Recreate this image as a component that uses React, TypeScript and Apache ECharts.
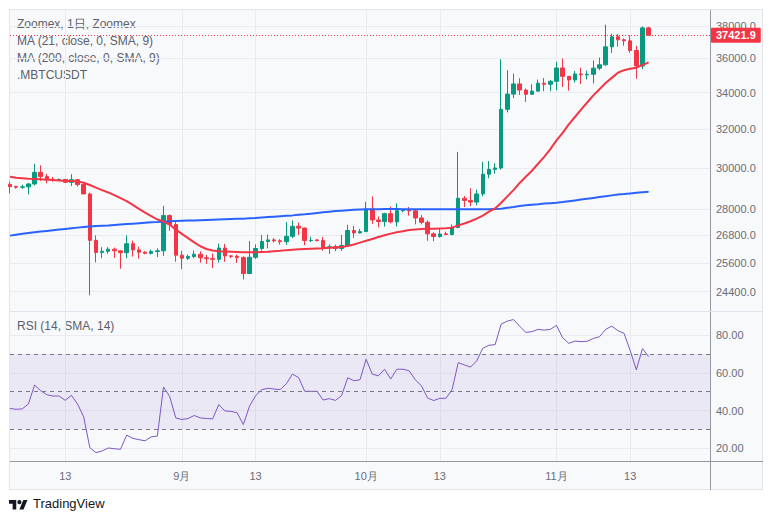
import React, { useEffect, useRef } from "react";
import * as echarts from "echarts";

// ---------- data ----------
const START_DATE = Date.UTC(2023, 7, 4); // 2023-08-04
const CATEGORY_COUNT = 115; // visible days incl. empty right margin
const dates: string[] = Array.from({ length: CATEGORY_COUNT }, (_, i) =>
  new Date(START_DATE + i * 86400000).toISOString().slice(0, 10)
);

const opens = [
  29180, 29080, 29040, 29060, 29200, 29770, 29560, 29430, 29400, 29420, 29280, 29410, 29170, 28720, 26580,
  26050, 26100, 26190, 26120, 26040, 26430, 26160, 26060, 26010, 26090, 26120, 27700, 27290, 25930, 25800,
  25870, 25970, 25820, 25780, 25750, 26240, 25900, 25880, 25830, 25150, 25840, 26220, 26530, 26600, 26560,
  26520, 26760, 27210, 27130, 26570, 26600, 26570, 26250, 26300, 26220, 26350, 27020, 26910, 26970, 28000,
  27500, 27430, 27790, 27410, 27930, 27960, 27920, 27590, 27390, 26870, 26750, 26870, 26840, 27160, 28510,
  28410, 28330, 28720, 29680, 29920, 29990, 33070, 33920, 34500, 34150, 33910, 34090, 34540, 34480, 34650,
  35430, 34940, 34730, 35080, 35030, 35060, 35420, 35620, 36700, 37320, 37140, 37070, 36480, 35550, 37880,
];
const closes = [
  29070, 29040, 29060, 29200, 29770, 29560, 29430, 29400, 29420, 29280, 29410, 29170, 28720, 26580, 26050,
  26100, 26190, 26120, 26040, 26430, 26160, 26060, 26010, 26090, 26120, 27700, 27290, 25930, 25800, 25870,
  25970, 25820, 25780, 25750, 26240, 25900, 25880, 25830, 25150, 25840, 26220, 26530, 26600, 26560, 26520,
  26760, 27210, 27130, 26570, 26580, 26570, 26250, 26300, 26220, 26350, 27020, 26910, 26970, 28000, 27500,
  27430, 27790, 27410, 27930, 27960, 27920, 27590, 27390, 26870, 26750, 26860, 26840, 27160, 28510, 28410,
  28330, 28720, 29680, 29920, 29990, 33070, 33920, 34500, 34150, 33910, 34090, 34540, 34480, 34650, 35430,
  34940, 34730, 35080, 35040, 35060, 35420, 35620, 36700, 37320, 37140, 37070, 36480, 35550, 37880, 37421.9,
];
const lows = [
  28750, 28970, 28960, 28700, 29130, 29350, 29230, 29310, 29360, 29250, 29100, 29070, 28700, 24250, 25620,
  25800, 26000, 25810, 25350, 25800, 25870, 25780, 25970, 25960, 25850, 25900, 27010, 25650, 25330, 25720,
  25800, 25610, 25560, 25380, 25610, 25650, 25800, 25600, 24900, 25120, 25770, 26130, 26230, 26480, 26400,
  26380, 26680, 26820, 26370, 26500, 26530, 26130, 25990, 26100, 26120, 26320, 26680, 26890, 26950, 27320,
  27160, 27200, 27340, 27200, 27860, 27700, 27300, 27300, 26560, 26540, 26700, 26810, 26800, 27120, 28100,
  28140, 28180, 28600, 29480, 29700, 29900, 32900, 33700, 33870, 33480, 33870, 34050, 34080, 34080, 34140,
  34320, 34120, 34580, 34500, 34760, 34530, 35300, 35550, 36330, 36720, 36770, 36350, 34800, 35360, 37420,
];
const highs = [
  29310, 29110, 29170, 29250, 30200, 30120, 29700, 29540, 29470, 29450, 29680, 29450, 29220, 28780, 26800,
  26280, 26280, 26260, 26130, 26800, 26570, 26300, 26100, 26170, 26230, 28150, 27760, 27480, 26120, 25960,
  26130, 26100, 25950, 26000, 26440, 26420, 25940, 25960, 25880, 26550, 26400, 26820, 26840, 26680, 26630,
  27400, 27480, 27380, 27160, 26740, 26630, 26730, 26400, 26390, 26820, 27280, 27230, 27090, 28340, 28600,
  27660, 27830, 28120, 28270, 28010, 28100, 27990, 27730, 27480, 26940, 27100, 26970, 27290, 30800, 28620,
  28990, 28920, 30300, 30340, 30220, 35950, 35300, 35100, 34830, 34240, 34480, 34750, 34840, 34730, 35800,
  35990, 34950, 35250, 35450, 35280, 35880, 36050, 38080, 37500, 37500, 37220, 37420, 36760, 37980, 37950,
];
const ma21 = [
  29550, 29510, 29480, 29450, 29440, 29430, 29410, 29390, 29370, 29350, 29340, 29320, 29260, 29150, 29020,
  28900, 28790, 28660, 28520, 28380, 28200, 28010, 27840, 27680, 27520, 27430, 27290, 27060, 26870, 26680,
  26490, 26320, 26200, 26130, 26100, 26090, 26080, 26070, 26060, 26060, 26060, 26070, 26080, 26100, 26120,
  26150, 26170, 26190, 26200, 26210, 26220, 26230, 26250, 26270, 26290, 26330, 26400, 26480, 26560, 26640,
  26730, 26810, 26880, 26940, 26990, 27040, 27070, 27090, 27100, 27100, 27110, 27120, 27150, 27250, 27340,
  27440, 27560, 27700, 27880, 28030, 28300, 28600, 28900, 29250, 29550, 29850, 30200, 30550, 30950, 31400,
  31800, 32250, 32650, 33050, 33450, 33850, 34200, 34550, 34850, 35150, 35300, 35380, 35450, 35600, 35760,
];
const ma200 = [
  26790, 26830, 26870, 26910, 26940, 26970, 27000, 27030, 27060, 27090, 27120, 27150, 27180, 27200, 27220,
  27240, 27250, 27270, 27290, 27310, 27330, 27350, 27370, 27390, 27400, 27420, 27440, 27450, 27460, 27470,
  27480, 27490, 27500, 27510, 27520, 27530, 27540, 27550, 27560, 27580, 27590, 27610, 27630, 27650, 27670,
  27690, 27710, 27740, 27760, 27790, 27820, 27850, 27880, 27910, 27930, 27950, 27970, 27980, 27990, 28000,
  28000, 28010, 28010, 28010, 28000, 28000, 28000, 27990, 27990, 27990, 27990, 27990, 27990, 28000, 28000,
  28000, 28000, 28000, 28000, 28010, 28020, 28060, 28100, 28150, 28180, 28210, 28230, 28260, 28280, 28300,
  28330, 28370, 28410, 28450, 28490, 28530, 28570, 28610, 28650, 28690, 28710, 28740, 28770, 28800, 28820,
];
const rsi = [
  41.1, 40.7, 40.9, 43.5, 53.5, 50.5, 48.4, 47.7, 47.7, 45.4, 48.1, 43.5, 36.7, 20.4, 17.7,
  18.6, 20.2, 19.8, 19.5, 27.0, 25.3, 24.6, 24.0, 26.1, 26.5, 52.5, 47.5, 36.1, 35.3, 35.8,
  37.4, 36.1, 35.8, 35.6, 43.2, 39.8, 39.6, 38.8, 32.6, 42.3, 47.9, 51.1, 51.8, 51.4, 51.1,
  54.2, 59.3, 57.5, 50.2, 50.2, 50.2, 45.6, 46.3, 45.4, 47.9, 57.4, 55.8, 56.3, 67.2, 59.3,
  58.4, 61.9, 56.7, 61.9, 61.9, 61.1, 56.3, 53.2, 46.7, 45.3, 46.5, 46.5, 51.1, 65.4, 64.2,
  63.0, 66.3, 73.0, 74.6, 74.9, 85.8, 87.4, 88.2, 84.7, 81.4, 81.8, 83.0, 82.6, 83.0, 85.1,
  78.6, 75.6, 76.8, 76.5, 76.7, 78.2, 79.1, 83.0, 84.7, 82.3, 80.9, 71.8, 61.6, 72.8, 68.6,
];
const priceTicks = [24400, 25600, 26800, 28000, 30000, 32000, 34000, 36000, 38000];
const rsiTicks = [20, 40, 60, 80];
const rsiLevels = [70, 50, 30];
const lastPrice = 37421.9;
const legendLines = ["Zoomex, 1日, Zoomex", "MA (21, close, 0, SMA, 9)", "MA (200, close, 0, SMA, 9)", ".MBTCUSDT"];
const rsiTitle = "RSI (14, SMA, 14)";

// ---------- style ----------
const FONT = "'Liberation Sans', Arial, sans-serif";
const UP = "#089981";
const DOWN = "#f23645";
const GRID_LINE = "#e9ebf0";
const AXIS_TEXT = "#6a6d78";
const FRAME = "#9598a1";

const dayOf = (s: string) => parseInt(s.slice(8, 10), 10);
const monthOf = (s: string) => parseInt(s.slice(5, 7), 10);
const isMarked = (s: string) => dayOf(s) === 1 || dayOf(s) === 13;

echarts.graphic.registerShape(
  "tvlogo",
  echarts.graphic.extendPath(
    "M14 22H7V11H0V4h14v18zM28 22h-8l7.5-18h8L28 22zM24 8a4 4 0 1 1-8 0a4 4 0 1 1 8 0z",
    {}
  ) as any
);

export default function App() {
  const ref = useRef<HTMLDivElement>(null);

  useEffect(() => {
    if (!ref.current) return;
    const chart = echarts.init(ref.current, null, { renderer: "svg" });
    const ln = Math.log;
    const candleData = opens.map((o, i) => [ln(o), ln(closes[i]), ln(lows[i]), ln(highs[i])]);

    const xCommon = {
      type: "category" as const,
      data: dates,
      boundaryGap: false,
      axisLine: { show: false },
      axisTick: { show: false },
      splitLine: {
        show: true,
        interval: (_i: number, v: string) => isMarked(v),
        lineStyle: { color: GRID_LINE, width: 1 },
      },
    };

    chart.setOption({
      animation: false,
      backgroundColor: "transparent",
      textStyle: { fontFamily: FONT },
      grid: [
        { left: 10, right: 62, top: 10, height: 301 },
        { left: 10, right: 62, top: 312, height: 149 },
      ],
      xAxis: [
        { ...xCommon, gridIndex: 0, axisLabel: { show: false } },
        {
          ...xCommon,
          gridIndex: 1,
          axisLabel: {
            show: true,
            interval: (_i: number, v: string) => isMarked(v),
            formatter: (v: string) => (dayOf(v) === 1 ? monthOf(v) + "月" : String(dayOf(v))),
            color: AXIS_TEXT,
            fontSize: 11,
            margin: 9,
            fontFamily: FONT,
          },
        },
      ],
      yAxis: [
        {
          gridIndex: 0,
          type: "value",
          position: "right",
          min: ln(23626),
          max: ln(39027),
          axisLine: { show: false },
          axisTick: { show: false, customValues: priceTicks.map(ln) },
          axisLabel: {
            customValues: priceTicks.map(ln),
            formatter: (v: number) => Math.round(Math.exp(v)).toFixed(1),
            color: AXIS_TEXT,
            fontSize: 11,
            margin: 6,
            fontFamily: FONT,
          },
          splitLine: { show: true, lineStyle: { color: GRID_LINE, width: 1 } },
        },
        {
          gridIndex: 1,
          type: "value",
          position: "right",
          min: 13.3,
          max: 92.2,
          axisLine: { show: false },
          axisTick: { show: false, customValues: rsiTicks },
          axisLabel: {
            customValues: rsiTicks,
            formatter: (v: number) => v.toFixed(2),
            color: AXIS_TEXT,
            fontSize: 11,
            margin: 6,
            fontFamily: FONT,
          },
          splitLine: { show: true, lineStyle: { color: GRID_LINE, width: 1 } },
        },
      ],
      series: [
        {
          type: "candlestick",
          xAxisIndex: 0,
          yAxisIndex: 0,
          data: candleData,
          barWidth: 4,
          clip: true,
          itemStyle: { color: UP, color0: DOWN, borderColor: UP, borderColor0: DOWN, borderWidth: 1 },
          markLine: {
            silent: true,
            symbol: ["none", "none"],
            z: 10,
            data: [{ yAxis: ln(lastPrice) }],
            lineStyle: { color: DOWN, type: [1, 2], width: 1 },
            label: {
              show: true,
              position: "end",
              distance: 1,
              formatter: lastPrice.toFixed(1),
              color: "#ffffff",
              backgroundColor: DOWN,
              padding: [2, 5, 2, 5],
              borderRadius: 1,
              fontSize: 11,
              fontWeight: "bold",
              fontFamily: FONT,
            },
          },
        },
        {
          type: "line",
          xAxisIndex: 0,
          yAxisIndex: 0,
          data: ma200.map(ln),
          showSymbol: false,
          lineStyle: { color: "#2962ff", width: 2 },
          itemStyle: { color: "#2962ff" },
        },
        {
          type: "line",
          xAxisIndex: 0,
          yAxisIndex: 0,
          data: ma21.map(ln),
          showSymbol: false,
          lineStyle: { color: DOWN, width: 2 },
          itemStyle: { color: DOWN },
        },
        {
          type: "line",
          xAxisIndex: 1,
          yAxisIndex: 1,
          data: rsi,
          showSymbol: false,
          lineStyle: { color: "#7e57c2", width: 1 },
          itemStyle: { color: "#7e57c2" },
          markArea: {
            silent: true,
            itemStyle: { color: "rgba(126,87,194,0.1)" },
            data: [[{ yAxis: rsiLevels[2] }, { yAxis: rsiLevels[0] }]],
          },
          markLine: {
            silent: true,
            symbol: ["none", "none"],
            label: { show: false },
            lineStyle: { color: "#787b86", type: [4, 4], width: 1 },
            data: rsiLevels.map((v) => ({ yAxis: v })),
          },
        },
      ],
      graphic: [
        ...legendLines.map((t, i) => ({
          type: "text",
          left: 17,
          top: 18 + i * 17,
          silent: true,
          style: { text: t, fill: "#5d606b", font: `12px ${FONT}` },
        })),
        {
          type: "text",
          left: 17,
          top: 320,
          silent: true,
          style: { text: rsiTitle, fill: "#5d606b", font: `12px ${FONT}` },
        },
        { type: "line", silent: true, shape: { x1: 710.5, y1: 10, x2: 710.5, y2: 490 }, style: { stroke: FRAME, lineWidth: 1 } },
        { type: "line", silent: true, shape: { x1: 10, y1: 461.5, x2: 763, y2: 461.5 }, style: { stroke: FRAME, lineWidth: 1 } },
        { type: "line", silent: true, shape: { x1: 10, y1: 311.5, x2: 763, y2: 311.5 }, style: { stroke: "#e0e3eb", lineWidth: 1 } },
        {
          type: "tvlogo",
          x: 9,
          y: 498,
          scaleX: 0.52,
          scaleY: 0.52,
          silent: true,
          style: { fill: "#131722" },
        },
        {
          type: "text",
          left: 33,
          top: 497,
          silent: true,
          style: { text: "TradingView", fill: "#131722", font: `13px ${FONT}` },
        },
      ],
    });
    return () => chart.dispose();
  }, []);

  return (
    <div style={{ position: "fixed", left: 0, top: 0, width: 772, height: 523, background: "#ffffff" }}>
      <div
        style={{
          position: "absolute",
          left: 9,
          top: 9,
          width: 754,
          height: 481,
          boxSizing: "border-box",
          background: "#f8f9fb",
          border: "1px solid #e3e5ea",
        }}
      />
      <div ref={ref} style={{ position: "absolute", left: 0, top: 0, width: 772, height: 523 }} />
    </div>
  );
}
